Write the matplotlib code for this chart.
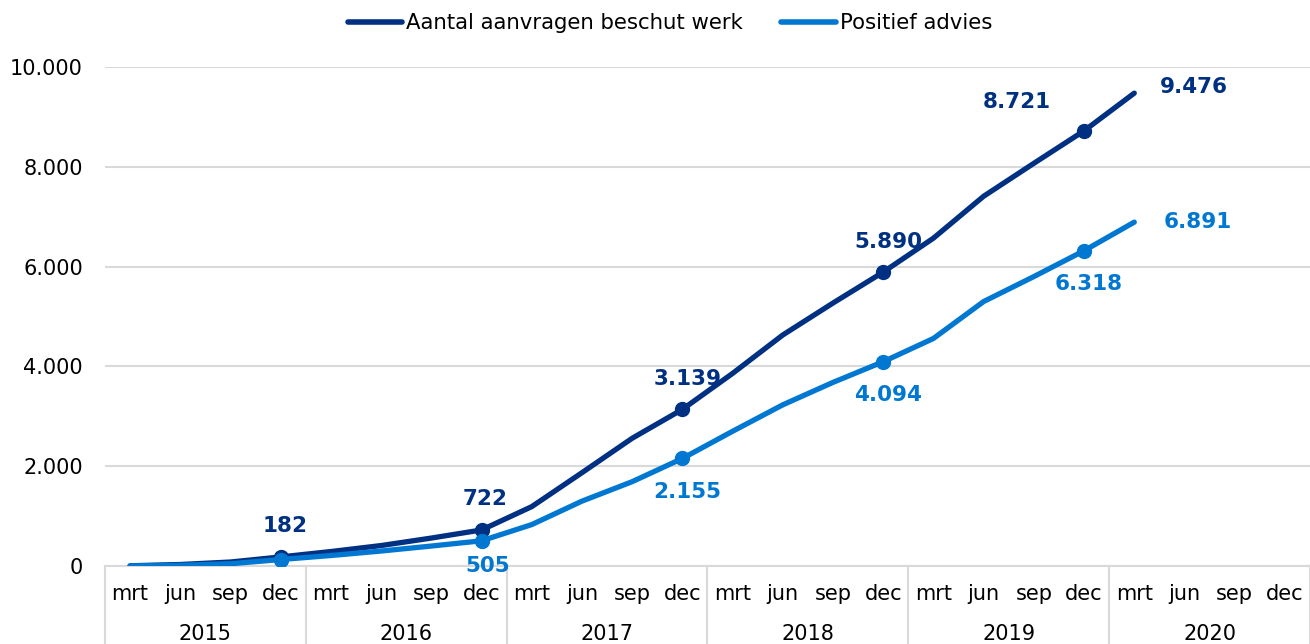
import matplotlib
matplotlib.use("Agg")
import matplotlib.pyplot as plt
import matplotlib.transforms as mtransforms
from matplotlib.lines import Line2D

years = ["2015", "2016", "2017", "2018", "2019", "2020"]
months = ["mrt", "jun", "sep", "dec"]
categories = [f"{m} {y}" for y in years for m in months]

aanvragen = [5, 30, 80, 182, 290, 410, 560, 722,
             1190, 1870, 2560, 3139, 3860, 4630, 5270, 5890,
             6570, 7410, 8070, 8721, 9476]
positief = [3, 15, 45, 130, 210, 300, 400, 505,
            830, 1300, 1690, 2155, 2700, 3230, 3680, 4094,
            4560, 5300, 5800, 6318, 6891]

series_names = ["Aantal aanvragen beschut werk", "Positief advies"]
dark = "#003082"
light = "#0078D2"

def fmt(v):
    return f"{v:,}".replace(",", ".")

PX = 72 / 100  # points per pixel

fig = plt.figure(figsize=(13.10, 6.44), dpi=100)
ax = fig.add_axes([105/1310, 1 - 566/644, 1 - 105/1310, (566 - 67)/644])

x_a = list(range(len(aanvragen)))
x_p = list(range(len(positief)))
dec_idx = [i for i in range(len(aanvragen)) if i % 4 == 3]

ax.plot(x_a, aanvragen, color=dark, lw=3.8, solid_capstyle="round",
        marker="o", markevery=dec_idx, markersize=10, zorder=3)
ax.plot(x_p, positief, color=light, lw=3.8, solid_capstyle="round",
        marker="o", markevery=dec_idx, markersize=10, zorder=4)

ax.set_xlim(-0.5, len(categories) - 0.5)
ax.set_ylim(0, 10000)
ax.set_yticks(range(0, 10001, 2000))
ax.set_yticklabels([fmt(v) for v in range(0, 10001, 2000)])
ax.tick_params(axis="y", length=0, pad=16, labelsize=15, labelcolor="#000000")
ax.grid(axis="y", color="#D9D9D9", lw=1.5, zorder=0)
ax.set_axisbelow(True)
for s in ["top", "right", "left"]:
    ax.spines[s].set_visible(False)
ax.spines["bottom"].set_color("#D9D9D9")
ax.spines["bottom"].set_linewidth(1.5)

ax.set_xticks(range(len(categories)))
ax.set_xticklabels([c.split()[0] for c in categories])
ax.tick_params(axis="x", length=0, pad=13, labelsize=15)

trans = mtransforms.blended_transform_factory(ax.transData, ax.transAxes)
bottom_frac = -(644 - 566) / (566 - 67)
for k in range(len(years) + 1):
    xs = -0.5 + 4 * k
    ax.plot([xs, xs], [0, bottom_frac - 0.01], transform=trans, color="#D9D9D9",
            lw=1.5, clip_on=False, zorder=1)
for k, y in enumerate(years):
    ax.text(4 * k + 1.5, -(634 - 566) / (566 - 67), y, transform=trans,
            ha="center", va="center", fontsize=15)

# data labels (offsets in pixels)
dark_off = {3: (4, 31), 7: (4, 31), 11: (5, 30), 15: (5, 30), 19: (-67, 29)}
light_off = {7: (6, -25), 11: (5, -34), 15: (5, -33), 19: (5, -33)}
lab_kw = dict(textcoords="offset points", ha="center", va="center",
              fontsize=15.5, fontweight="bold")
for i, (dx, dy) in dark_off.items():
    ax.annotate(fmt(aanvragen[i]), (i, aanvragen[i]), xytext=(dx * PX, dy * PX),
                color=dark, **lab_kw)
for i, (dx, dy) in light_off.items():
    ax.annotate(fmt(positief[i]), (i, positief[i]), xytext=(dx * PX, dy * PX),
                color=light, **lab_kw)
last = len(aanvragen) - 1
ax.annotate(fmt(aanvragen[last]), (last, aanvragen[last]), xytext=(26 * PX, 6 * PX),
            textcoords="offset points", ha="left", va="center", fontsize=15.5,
            fontweight="bold", color=dark)
ax.annotate(fmt(positief[last]), (last, positief[last]), xytext=(29 * PX, 0),
            textcoords="offset points", ha="left", va="center", fontsize=15.5,
            fontweight="bold", color=light)

handles = [Line2D([], [], color=dark, lw=4, solid_capstyle="round"),
           Line2D([], [], color=light, lw=4, solid_capstyle="round")]
fig.legend(handles, series_names, loc="center", bbox_to_anchor=(670/1310, 1 - 23/644),
           ncol=2, frameon=False, fontsize=15.3, handlelength=2.55,
           handletextpad=0.2, columnspacing=1.8, borderpad=0, borderaxespad=0)

fig.savefig("out.png", dpi=100)
